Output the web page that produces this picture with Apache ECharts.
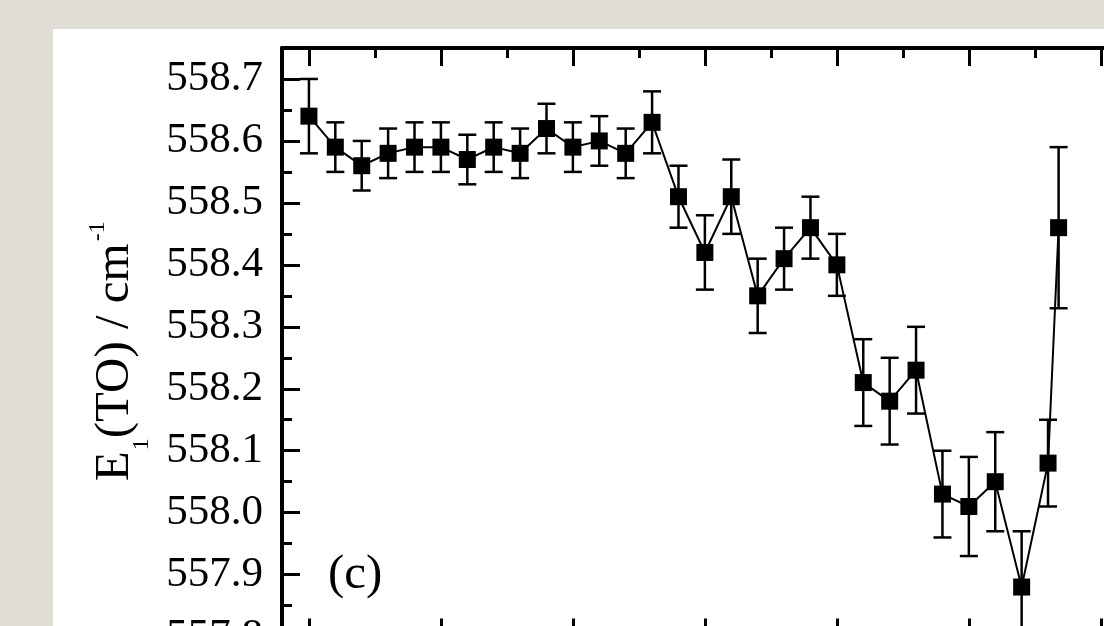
<!DOCTYPE html>
<html>
<head>
<meta charset="utf-8">
<script src="https://cdn.jsdelivr.net/npm/echarts@6/dist/echarts.min.js"></script>
<style>
  html, body { margin: 0; padding: 0; width: 1104px; height: 626px; overflow: hidden; background: #e0ddd7; }
  #chart { position: absolute; left: 53px; top: 29px; width: 1051px; height: 597px; background: #ffffff; }
</style>
</head>
<body>
<div id="chart"></div>
<script>
// ---- data ----
const xValues = [0, 10, 20, 30, 40, 50, 60, 70, 80, 90, 100, 110, 120, 130, 140,
                 150, 160, 170, 180, 190, 200, 210, 220, 230, 240, 250, 260, 270, 280, 284];
const yValues = [558.64, 558.59, 558.56, 558.58, 558.59, 558.59, 558.57, 558.59, 558.58, 558.62,
                 558.59, 558.60, 558.58, 558.63, 558.51, 558.42, 558.51, 558.35, 558.41, 558.46,
                 558.40, 558.21, 558.18, 558.23, 558.03, 558.01, 558.05, 557.88, 558.08, 558.46];
const yErrors = [0.06, 0.04, 0.04, 0.04, 0.04, 0.04, 0.04, 0.04, 0.04, 0.04,
                 0.04, 0.04, 0.04, 0.05, 0.05, 0.06, 0.06, 0.06, 0.05, 0.05,
                 0.05, 0.07, 0.07, 0.07, 0.07, 0.08, 0.08, 0.09, 0.07, 0.13];
const xMajorTicks = [0, 50, 100, 150, 200, 250, 300];
const xMinorTicks = [25, 75, 125, 175, 225, 275];
const yTickLabels = ['557.8', '557.9', '558.0', '558.1', '558.2', '558.3', '558.4', '558.5', '558.6', '558.7'];
const panelLabel = '(c)';

const FONT = 'Liberation Serif';
const X_MIN = -10.2, X_MAX = 301.2;
const Y_MIN = 557.8, Y_MAX = 558.75;

const points = xValues.map((x, i) => [x, yValues[i]]);
const errData = xValues.map((x, i) => [x, yValues[i] - yErrors[i], yValues[i] + yErrors[i]]);

function xAxisDef(pos, ticks, len, showLine) {
  return {
    type: 'value', position: pos, min: X_MIN, max: X_MAX,
    axisLine: { show: showLine, onZero: false, lineStyle: { color: '#000', width: 4 } },
    axisTick: { show: true, inside: true, length: len, customValues: ticks,
                lineStyle: { color: '#000', width: 3 } },
    axisLabel: { show: false },
    splitLine: { show: false }
  };
}

const chart = echarts.init(document.getElementById('chart'), null, { renderer: 'canvas' });
chart.setOption({
  animation: false,
  grid: { left: 229, top: 19, right: 0, height: 588.6, containLabel: false, outerBoundsMode: 'none' },
  xAxis: [
    xAxisDef('bottom', xMajorTicks, 18, true),
    xAxisDef('top', xMajorTicks, 18, true),
    xAxisDef('bottom', xMinorTicks, 10, false),
    xAxisDef('top', xMinorTicks, 10, false)
  ],
  yAxis: {
    type: 'value', position: 'left', min: Y_MIN, max: Y_MAX, interval: 0.1,
    axisLine: { show: true, onZero: false, lineStyle: { color: '#000', width: 4 } },
    axisTick: { show: true, inside: true, length: 18, lineStyle: { color: '#000', width: 3 } },
    minorTick: { show: true, splitNumber: 2, length: 10, lineStyle: { color: '#000', width: 3 } },
    splitLine: { show: false },
    axisLabel: {
      color: '#000', fontFamily: FONT, fontSize: 43, margin: 19, showMaxLabel: false,
      formatter: function (v) {
        const s = v.toFixed(1);
        return yTickLabels.indexOf(s) >= 0 ? s : '';
      }
    },
    name: '{n|E}{sub|1}{n|(TO) / cm}{sup|-1}',
    nameLocation: 'middle',
    nameGap: 142,
    nameTextStyle: {
      color: '#000', fontFamily: FONT, fontSize: 49,
      rich: {
        n: { fontFamily: FONT, fontSize: 49, lineHeight: 49, color: '#000' },
        sub: { fontFamily: FONT, fontSize: 24, lineHeight: 24, color: '#000', padding: [52, 0, 0, 1] },
        sup: { fontFamily: FONT, fontSize: 24, lineHeight: 24, color: '#000', padding: [0, 18, 36, 2] }
      }
    }
  },
  graphic: [{
    type: 'text', left: 275, top: 522,
    style: { text: panelLabel, font: '49px "Liberation Serif"', fill: '#000' }
  }],
  series: [
    {
      type: 'custom',
      xAxisIndex: 0,
      z: 3,
      data: errData,
      renderItem: function (params, api) {
        const x = api.value(0);
        const lo = api.coord([x, api.value(1)]);
        const hi = api.coord([x, api.value(2)]);
        const w = 9;
        const style = { stroke: '#000', lineWidth: 2.5 };
        return {
          type: 'group',
          children: [
            { type: 'line', shape: { x1: lo[0], y1: lo[1], x2: hi[0], y2: hi[1] }, style: style },
            { type: 'line', shape: { x1: lo[0] - w, y1: lo[1], x2: lo[0] + w, y2: lo[1] }, style: style },
            { type: 'line', shape: { x1: hi[0] - w, y1: hi[1], x2: hi[0] + w, y2: hi[1] }, style: style }
          ]
        };
      }
    },
    {
      type: 'line',
      xAxisIndex: 0,
      z: 4,
      data: points,
      symbol: 'rect',
      symbolSize: 17,
      showSymbol: true,
      itemStyle: { color: '#000' },
      lineStyle: { color: '#000', width: 2 }
    }
  ]
});
</script>
</body>
</html>
